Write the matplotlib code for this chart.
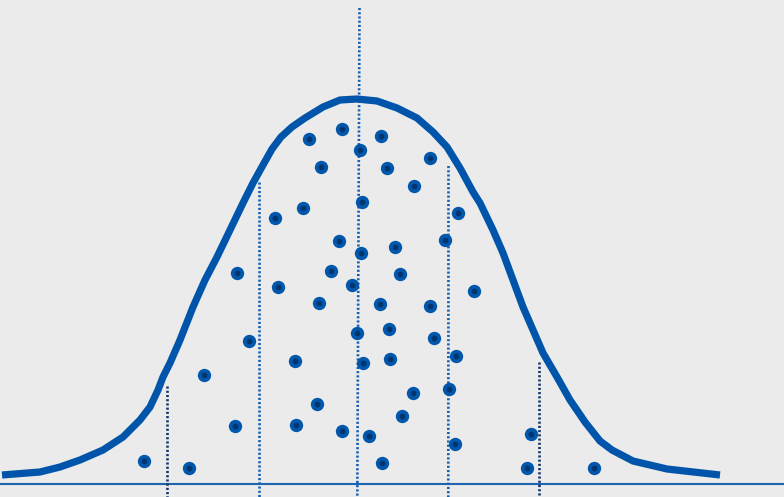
import matplotlib
matplotlib.use("Agg")
import matplotlib.pyplot as plt

# canvas is in pixel units: x to the right, y downward
W, H = 784, 497

# bell curve outline (hand-traced)
curve_x = [2, 40, 60, 80, 103, 123, 140, 150, 158, 163, 170, 180, 193, 205, 217,
           230, 243, 253, 263, 272, 281, 292, 305, 323, 340, 357, 377, 397, 417,
           433, 447, 460, 473, 480, 493, 503, 513, 523, 533, 543, 557, 570, 585,
           600, 612, 633, 667, 720]
curve_y = [475, 472, 467, 460, 450, 437, 420, 407, 390, 377, 363, 340, 307, 280, 257,
           230, 203, 183, 165, 149, 137, 127, 118, 107, 100, 99, 101, 108, 118,
           132, 147, 168, 192, 203, 230, 253, 280, 307, 330, 353, 377, 400, 422,
           441, 450, 461, 469, 475]

# scattered points
dot_x = [143.7, 188.7, 204, 235, 237.3, 249.3, 274.7, 277.7, 294.7, 295.7, 303, 308.7,
         316.7, 319, 321, 331, 339, 342, 342, 351.7, 356.7, 360, 360.7, 362, 363.3,
         369, 380, 380.7, 382, 387.3, 388.7, 390, 394.7, 399.7, 402, 412.7, 414,
         429.7, 430, 433.7, 444.7, 449, 456, 455, 458.3, 474.3, 526.7, 531, 593.7]
dot_y = [461.3, 468.3, 375.3, 425.7, 272.7, 341, 218, 286.7, 361, 425.3, 208, 138.7,
         404, 303, 167, 270.7, 241, 128.7, 431, 285, 333.3, 150.3, 253.3, 202, 363.3,
         435.7, 304.3, 135.7, 463.3, 167.7, 328.7, 358.7, 246.7, 273.7, 416.3, 392.7, 186.3,
         306, 158, 338.3, 240, 388.7, 355.7, 443.7, 213.3, 291, 468.3, 434.3, 468]

# vertical guide lines: x at top, x at bottom, top y, colour
guide_x_top = [166.7, 259.3, 359.5, 448.5, 539.3]
guide_x_bot = [166.7, 259.3, 357.3, 448.3, 539.3]
guide_top = [386, 182, 8, 166, 362]
guide_col = ["#13356b", "#1560b0", "#1560b0", "#1560b0", "#13356b"]

BASE_Y = 483.5

fig = plt.figure(figsize=(W / 100, H / 100), dpi=100)
fig.patch.set_facecolor("#ebebeb")
ax = fig.add_axes([0, 0, 1, 1])
ax.set_facecolor("#ebebeb")
ax.set_xlim(0, W)
ax.set_ylim(H, 0)
ax.axis("off")

for xt, xb, yt, c in zip(guide_x_top, guide_x_bot, guide_top, guide_col):
    ax.plot([xt, xb], [yt, H], color=c, lw=1.9, linestyle=(0, (0.8, 0.8)),
            dash_capstyle="butt", zorder=2)

ax.plot([0, W], [BASE_Y, BASE_Y], color="#1f64b0", lw=1.5, zorder=1)

ax.plot(curve_x, curve_y, color="#0055aa", lw=5.2, solid_joinstyle="round",
        solid_capstyle="butt", zorder=3)

ax.plot(dot_x, dot_y, "o", ms=9.6, color="#0057ab", mew=0, zorder=4)
ax.plot(dot_x, dot_y, "o", ms=4.2, color="#00356f", mew=0, zorder=5)

fig.savefig("out.png", dpi=100, facecolor=fig.get_facecolor())
